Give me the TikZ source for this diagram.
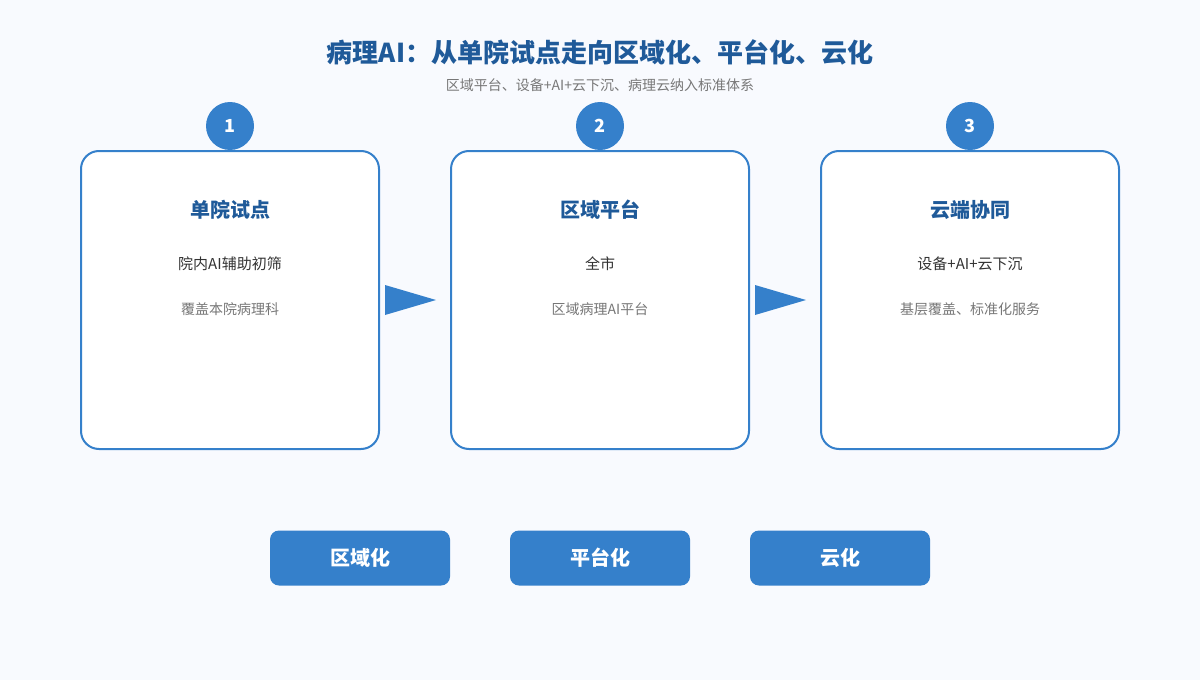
\documentclass[tikz,border=0pt]{standalone}
\usepackage{fontspec}
\setmainfont{Noto Sans CJK SC}
\begin{document}
\definecolor{bg}{HTML}{F8FAFE}
\definecolor{blu}{HTML}{3580CB}
\definecolor{dk}{HTML}{1F5A99}
\definecolor{tx}{HTML}{333333}
\definecolor{gr}{HTML}{777777}
\begin{tikzpicture}[x=1pt,y=-1pt,
 card/.style={draw=blu,line width=2pt,fill=white,rounded corners=18pt,minimum width=298pt,minimum height=298pt},
 num/.style={circle,fill=blu,minimum size=48pt,inner sep=0pt,text=white,font=\fontsize{18}{20}\selectfont\bfseries},
 ttl/.style={text=dk,font=\fontsize{20}{24}\selectfont\bfseries},
 l1/.style={text=tx,font=\fontsize{15}{18}\selectfont},
 l2/.style={text=gr,font=\fontsize{14}{17}\selectfont},
 tag/.style={fill=blu,rounded corners=9pt,minimum width=180pt,minimum height=55pt,text=white,font=\fontsize{20}{24}\selectfont\bfseries},
 arr/.style={fill=blu}]
\fill[bg] (0,0) rectangle (1200,680);
\useasboundingbox (0,0) rectangle (1200,680);
\node[text=dk,font=\fontsize{26}{30}\selectfont\bfseries] (t) at (600,52) {病理AI：从单院试点走向区域化、平台化、云化};
\node[text=gr,font=\fontsize{14}{17}\selectfont] (s) at (600,85) {区域平台、设备+AI+云下沉、病理云纳入标准体系};
\foreach \i/\x/\a/\b/\c in {1/230/单院试点/院内AI辅助初筛/覆盖本院病理科,2/600/区域平台/全市/区域病理AI平台/医联体协同、结果互认,3/970/云端协同/设备+AI+云下沉/基层覆盖、标准化服务}{
 \node[card] (c\i) at (\x,300) {};
 \node[num] (n\i) at (\x,126) {\i};
 \node[ttl] (h\i) at (\x,210) {\a};
 \node[l1] (a\i) at (\x,264) {\b};
 \node[l2] (b\i) at (\x,309) {\c};
}
\fill[arr] (385,285) -- (436,300) -- (385,315) -- cycle;
\fill[arr] (755,285) -- (806,300) -- (755,315) -- cycle;
\node[tag] (g1) at (360,558) {区域化};
\node[tag] (g2) at (600,558) {平台化};
\node[tag] (g3) at (840,558) {云化};
\end{tikzpicture}
\end{document}
